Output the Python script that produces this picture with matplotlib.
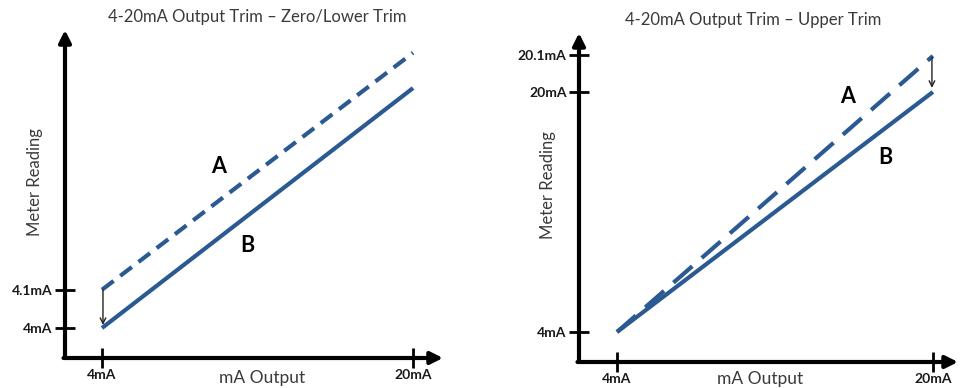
import matplotlib
matplotlib.use("Agg")
import matplotlib.pyplot as plt

plt.rcParams['font.family'] = ['Lato', 'DejaVu Sans']

# ---- data (schematic meter units) ----
x_ma = [4, 20]
x_tick_labels = ["4mA", "20mA"]

left_title = "4-20mA Output Trim – Zero/Lower Trim"
left_A = [6.55, 22.35]
left_B = [4.0, 20.0]
left_yticks = [4.0, 6.55]
left_ytick_labels = ["4mA", "4.1mA"]

right_title = "4-20mA Output Trim – Upper Trim"
right_A = [4.0, 22.4]
right_B = [4.0, 20.0]
right_yticks = [4.0, 20.0, 22.47]
right_ytick_labels = ["4mA", "20mA", "20.1mA"]

x_label = "mA Output"
y_label = "Meter Reading"

BLUE = "#2b5a93"
GREY = "#3a3a3a"
W, H = 960, 388

fig = plt.figure(figsize=(9.6, 3.88), dpi=100)


def px(x, y):
    return x / W, 1 - y / H


def make_panel(rect, xlim, ylim, A, B, yticks, ylabels, title, tpos, ylpos, xlpos,
               dashes, Apos, Bpos, arrow_x, arrow_y):
    l, t, r, b = rect
    ax = fig.add_axes([l / W, 1 - b / H, (r - l) / W, (b - t) / H])
    ax.set_xlim(*xlim)
    ax.set_ylim(*ylim)
    for s in ax.spines.values():
        s.set_visible(False)
    ax.patch.set_alpha(0)
    # axes with arrows
    ap = dict(arrowstyle='-|>', lw=3, color='black', mutation_scale=18,
              shrinkA=0, shrinkB=0)
    ax.annotate('', xy=(0, 1), xytext=(0, 0), xycoords='axes fraction',
                arrowprops=ap, annotation_clip=False)
    ax.annotate('', xy=(1, 0), xytext=(-0.004, 0), xycoords='axes fraction',
                arrowprops=ap, annotation_clip=False)
    # ticks
    ax.set_xticks(x_ma)
    ax.set_xticklabels(x_tick_labels, fontsize=10, fontweight='bold', color='#1a1a1a')
    ax.set_yticks(yticks)
    ax.set_yticklabels(ylabels, fontsize=10, fontweight='bold', color='#1a1a1a')
    ax.tick_params(axis='both', direction='inout', length=14, width=2, color='black')
    ax.tick_params(axis='x', pad=1)
    ax.tick_params(axis='y', pad=2)
    # lines
    ax.plot(x_ma, B, color=BLUE, lw=3, solid_capstyle='butt', clip_on=False)
    ax.plot(x_ma, A, color=BLUE, lw=3, dashes=dashes, dash_capstyle='butt', clip_on=False)
    # labels A / B
    ax.text(Apos[0], Apos[1], "A", fontsize=15.5, fontweight='bold', ha='center', va='center')
    ax.text(Bpos[0], Bpos[1], "B", fontsize=15.5, fontweight='bold', ha='center', va='center')
    # small trim arrow
    ax.annotate('', xy=(arrow_x, arrow_y[1]), xytext=(arrow_x, arrow_y[0]),
                arrowprops=dict(arrowstyle='->', lw=1, color='#222222',
                                shrinkA=0, shrinkB=0, mutation_scale=10),
                annotation_clip=False)
    # text
    fig.text(*px(*tpos), title, fontsize=12, color=GREY, ha='center', va='center')
    fig.text(*px(*ylpos), y_label, fontsize=12, color=GREY, ha='center', va='center',
             rotation=90)
    fig.text(*px(*xlpos), x_label, fontsize=12.5, color=GREY, ha='center', va='center')
    return ax


make_panel((65, 30, 443, 358), (2.097, 21.54), (2.0, 23.87),
           left_A, left_B, left_yticks, left_ytick_labels,
           left_title, (257, 17), (35, 182), (262, 378),
           (3.5, 2.0), (10.0, 14.8), (11.46, 9.53), 4.05, (6.55, 4.2))

make_panel((579, 33, 958, 362), (2.076, 21.27), (2.0, 23.93),
           right_A, right_B, right_yticks, right_ytick_labels,
           right_title, (753, 20), (548, 185), (760, 379),
           (6.0, 3.0), (15.7, 19.67), (17.57, 15.6), 19.95, (22.3, 20.27))

fig.savefig("out.png", dpi=100)
